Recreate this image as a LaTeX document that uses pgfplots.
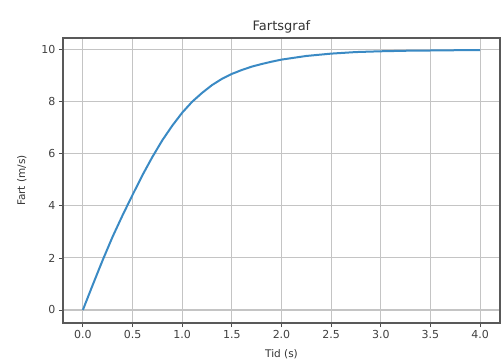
\documentclass[border=0pt]{standalone}
\usepackage{pgfplots}
\pgfplotsset{compat=1.18}
\usepackage{fontspec}
\setmainfont{DejaVu Sans}
\definecolor{mplblue}{HTML}{3A8AC4}
\definecolor{gridgray}{HTML}{C4C4C4}
\begin{document}
\begin{tikzpicture}
\useasboundingbox (-63pt,-37pt) rectangle (441pt,323pt);
\begin{axis}[
  scale only axis,
  width=437pt, height=285pt,
  at={(0,0)}, anchor=south west,
  xmin=-0.2, xmax=4.2, ymin=-0.5, ymax=10.45,
  xtick={0,0.5,...,4}, ytick={0,2,...,10},
  xticklabel style={/pgf/number format/.cd,fixed,fixed zerofill,precision=1},
  /pgf/number format/assume math mode=true,
  tick label style={font=\fontsize{11}{13}\selectfont, color=black!75},
  tick align=outside, tick pos=left,
  major tick length=4pt,
  every tick/.style={black!70, line width=0.8pt},
  grid=major,
  major grid style={gridgray, line width=1.1pt},
  axis line style={black!65, line width=1.1pt},
  title={Fartsgraf},
  title style={font=\fontsize{13}{15}\selectfont, color=black!80, yshift=-5pt},
  xlabel={Tid (s)}, ylabel={Fart (m/s)},
  label style={font=\fontsize{10.5}{12}\selectfont, color=black!80},
  xlabel style={yshift=-4pt},
  ylabel style={yshift=8pt},
]
\addplot[mplblue, line width=2pt] coordinates {
(0,0) (0.1,0.97) (0.2,1.92) (0.3,2.82) (0.4,3.64) (0.5,4.42) (0.6,5.18)
(0.7,5.88) (0.8,6.52) (0.9,7.08) (1.0,7.58) (1.1,8.0) (1.2,8.34)
(1.3,8.64) (1.4,8.88) (1.5,9.07) (1.6,9.22) (1.7,9.35) (1.8,9.45)
(1.9,9.54) (2.0,9.62) (2.25,9.76) (2.5,9.85) (2.75,9.91) (3.0,9.94)
(3.25,9.96) (3.5,9.97) (3.75,9.98) (4.0,9.98)
};
\end{axis}
\end{tikzpicture}
\end{document}
